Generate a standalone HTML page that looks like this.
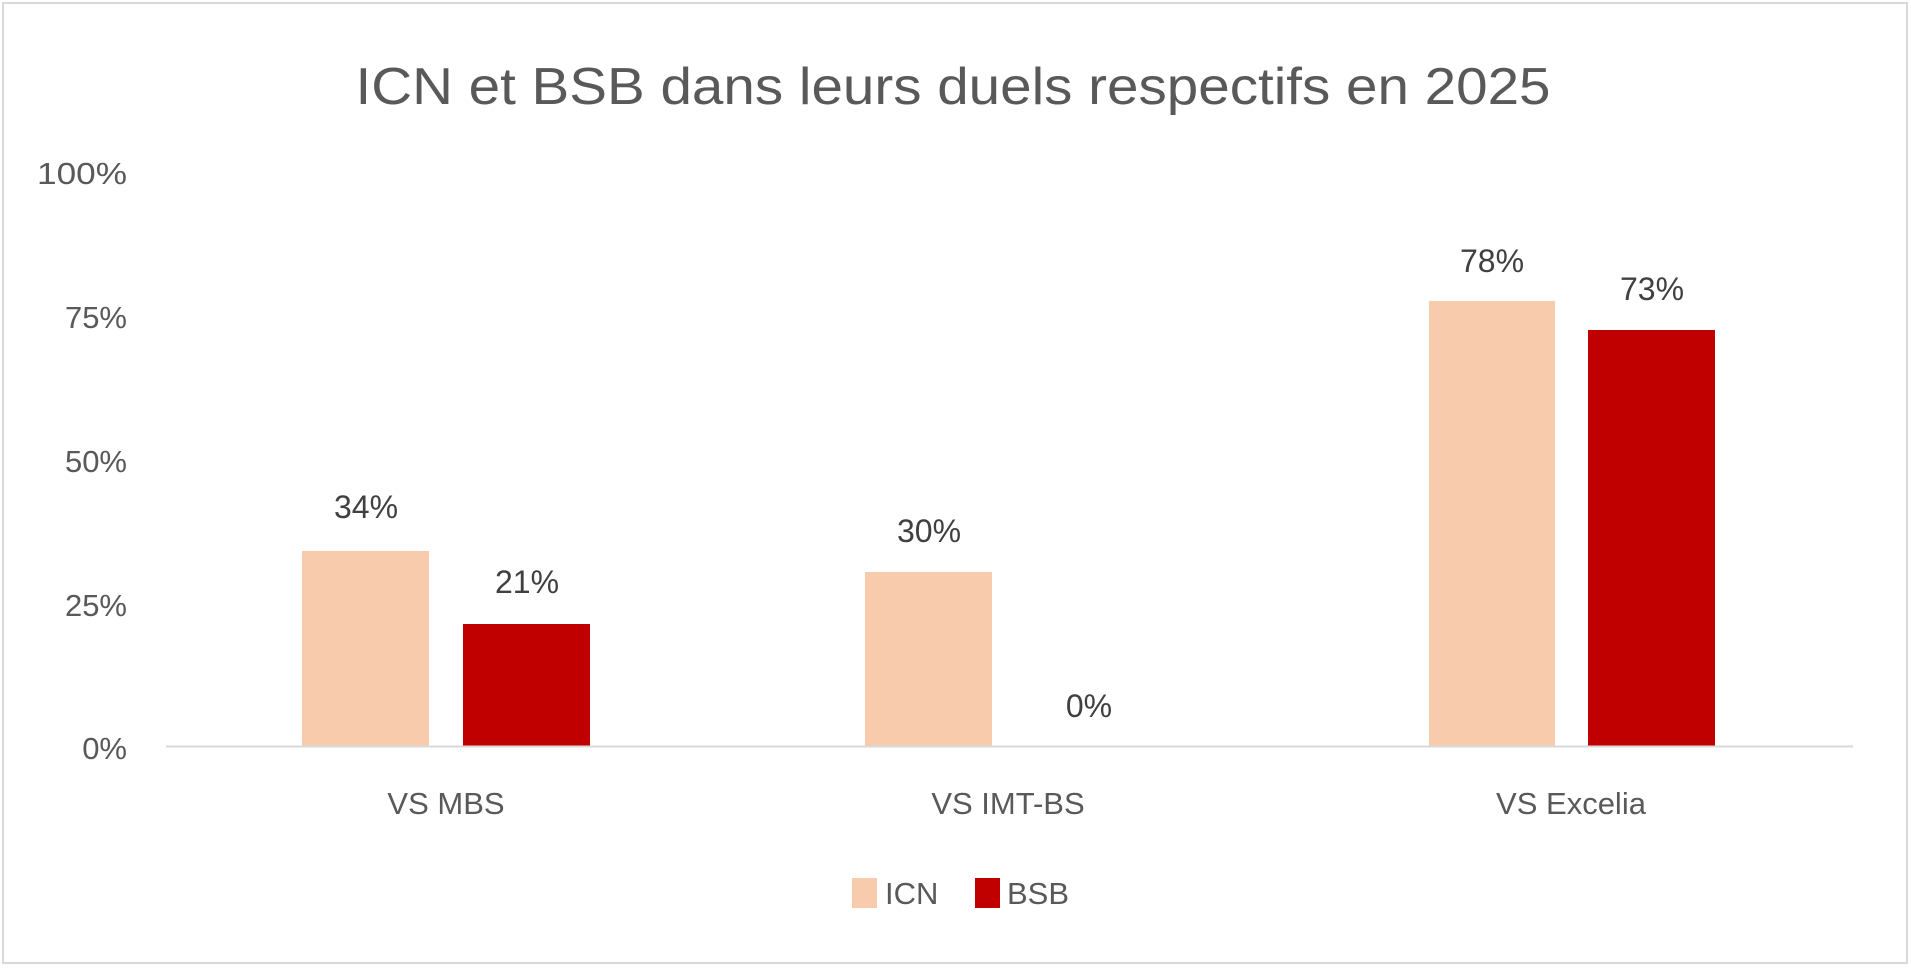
<!DOCTYPE html>
<html><head><meta charset="utf-8"><style>html,body{margin:0;padding:0;background:#fff}</style></head>
<body>
<svg width="1911" height="967" xmlns="http://www.w3.org/2000/svg" font-family="Liberation Sans, sans-serif" fill="#595959">
<rect x="3" y="3" width="1904" height="960" fill="#fff" stroke="#d9d9d9" stroke-width="2"/>
<text x="953" y="104" font-size="52" text-anchor="middle" textLength="1195" lengthAdjust="spacingAndGlyphs">ICN et BSB dans leurs duels respectifs en 2025</text>
<g font-size="31" text-anchor="end">
<text x="127" y="184" textLength="90" lengthAdjust="spacingAndGlyphs">100%</text>
<text x="127" y="328">75%</text>
<text x="127" y="472">50%</text>
<text x="127" y="616">25%</text>
<text x="127" y="759">0%</text>
</g>
<rect x="302" y="551" width="127" height="195" fill="#F8CBAD"/>
<rect x="463" y="624" width="127" height="122" fill="#C00000"/>
<rect x="865" y="572" width="127" height="174" fill="#F8CBAD"/>
<rect x="1429" y="301" width="126" height="445" fill="#F8CBAD"/>
<rect x="1588" y="330" width="127" height="416" fill="#C00000"/>
<line x1="166" y1="746.5" x2="1853" y2="746.5" stroke="#d9d9d9" stroke-width="2"/>
<g font-size="32" text-anchor="middle" fill="#404040">
<text x="366" y="518">34%</text>
<text x="527" y="593">21%</text>
<text x="929" y="542">30%</text>
<text x="1089" y="717">0%</text>
<text x="1492" y="272">78%</text>
<text x="1652" y="300">73%</text>
</g>
<g font-size="31" text-anchor="middle">
<text x="446" y="814">VS MBS</text>
<text x="1008" y="814">VS IMT-BS</text>
<text x="1571" y="814">VS Excelia</text>
</g>
<rect x="852" y="878" width="25" height="30" fill="#F8CBAD"/>
<text x="885" y="904" font-size="31">ICN</text>
<rect x="975" y="878" width="25" height="30" fill="#C00000"/>
<text x="1007" y="904" font-size="31">BSB</text>
</svg>
</body></html>
